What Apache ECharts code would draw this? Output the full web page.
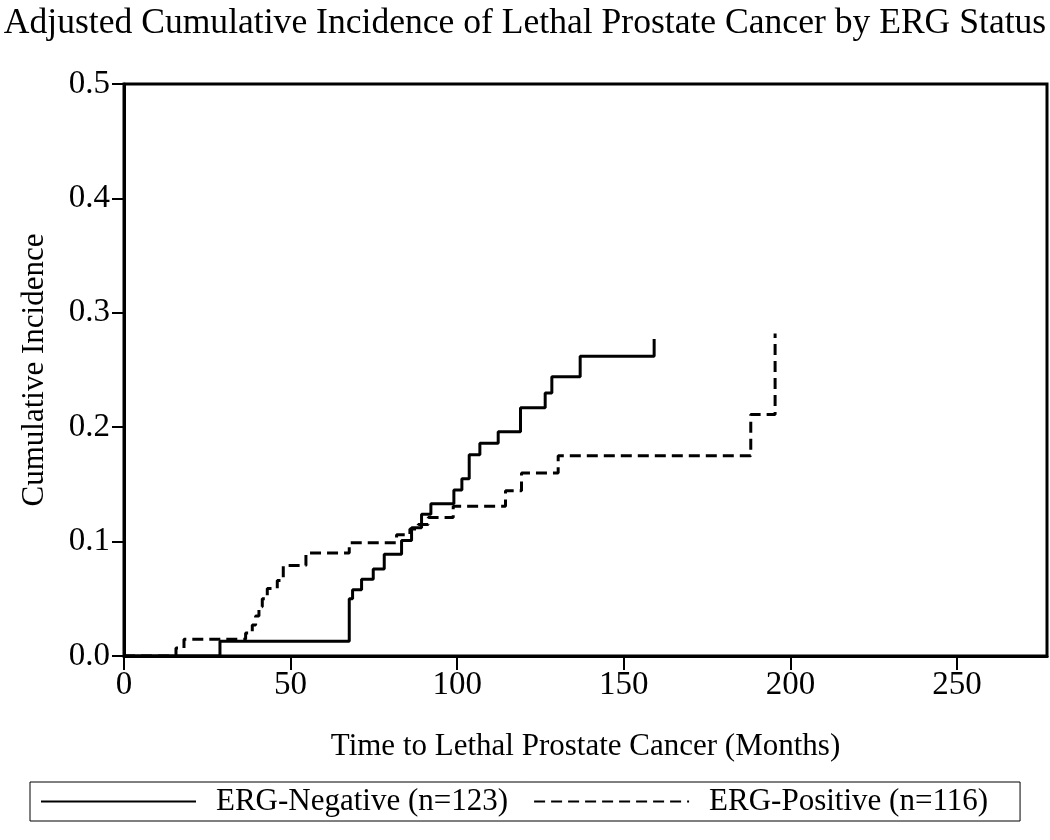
<!DOCTYPE html>
<html>
<head>
<meta charset="utf-8">
<script src="https://cdn.jsdelivr.net/npm/echarts@6/dist/echarts.min.js"></script>
<style>html,body{margin:0;padding:0;background:#fff}#c{width:1050px;height:840px}</style>
</head>
<body>
<div id="c"></div>
<script>
var titleText = 'Adjusted Cumulative Incidence of Lethal Prostate Cancer by ERG Status';
var xName = 'Time to Lethal Prostate Cancer (Months)';
var yName = 'Cumulative Incidence';
var seriesNames = ['ERG-Negative (n=123)', 'ERG-Positive (n=116)'];

// ERG-Negative step points [months, cumulative incidence]
var ergNegTime = [0, 28.8, 67.6, 68.6, 71.3, 74.8, 78.1, 83.3, 86.3, 89.3, 92.1, 99.0, 101.4, 103.6, 106.8, 112.3, 119.0, 126.4, 128.4, 136.9, 159.1];
var ergNegCI   = [0, 0.013, 0.050, 0.058, 0.067, 0.076, 0.089, 0.101, 0.112, 0.124, 0.133, 0.145, 0.155, 0.176, 0.186, 0.196, 0.217, 0.230, 0.244, 0.262, 0.277];

// ERG-Positive step points
var ergPosTime = [0, 15.6, 18.0, 36.5, 38.5, 39.5, 40.5, 41.5, 43.0, 46.0, 47.8, 54.6, 67.6, 81.8, 85.8, 88.3, 91.3, 98.8, 114.5, 119.3, 130.3, 188.1, 195.4];
var ergPosCI   = [0, 0.007, 0.0146, 0.020, 0.027, 0.035, 0.043, 0.050, 0.059, 0.066, 0.079, 0.090, 0.099, 0.106, 0.111, 0.115, 0.121, 0.131, 0.1445, 0.160, 0.175, 0.211, 0.282];

var xTicks = [0, 50, 100, 150, 200, 250];
var yTicks = [0.0, 0.1, 0.2, 0.3, 0.4, 0.5];

function pairs(t, v) { return t.map(function (x, i) { return [x, v[i]]; }); }

var FONT = '"Liberation Serif", "DejaVu Serif", serif';
var chart = echarts.init(document.getElementById('c'), null, {renderer: 'canvas'});
chart.setOption({
  animation: false,
  backgroundColor: '#fff',
  title: {
    text: titleText, left: 'center', top: 1,
    textStyle: {fontFamily: FONT, fontSize: 35.6, fontWeight: 'normal', color: '#000'}
  },
  grid: {left: 124, right: 3, top: 84, bottom: 184, show: true, borderColor: '#000', borderWidth: 3},
  xAxis: {
    type: 'value', min: 0, max: 277, interval: 50,
    name: xName, nameLocation: 'middle', nameGap: 75,
    nameTextStyle: {fontFamily: FONT, fontSize: 31, color: '#000'},
    axisLine: {show: true, lineStyle: {color: '#000', width: 3}},
    axisTick: {show: true, length: 14, customValues: xTicks, lineStyle: {color: '#000', width: 2}},
    axisLabel: {fontFamily: FONT, fontSize: 33, color: '#000', margin: 13, customValues: xTicks,
      formatter: function (v) { return String(v); }},
    splitLine: {show: false}
  },
  yAxis: {
    type: 'value', min: 0, max: 0.5, interval: 0.1,
    name: yName, nameLocation: 'middle', nameGap: 74, nameRotate: 90,
    nameTextStyle: {fontFamily: FONT, fontSize: 31, color: '#000'},
    axisLine: {show: true, lineStyle: {color: '#000', width: 3}},
    axisTick: {show: true, length: 12, customValues: yTicks, lineStyle: {color: '#000', width: 2}},
    axisLabel: {fontFamily: FONT, fontSize: 33, color: '#000', margin: 14, customValues: yTicks,
      formatter: function (v) { return Number(v).toFixed(1); }},
    splitLine: {show: false}
  },
  legend: {
    left: 30, top: 782, orient: 'horizontal',
    padding: [4, 32, 4, 10], itemGap: 25,
    itemWidth: 155, itemHeight: 14,
    borderColor: '#000', borderWidth: 1,
    itemStyle: {color: 'rgba(0,0,0,0)', borderWidth: 0, opacity: 0},
    textStyle: {fontFamily: FONT, fontSize: 31, color: '#000', padding: [0, 0, 0, 15]},
    data: seriesNames
  },
  series: [
    {
      name: seriesNames[0], type: 'line', step: 'end', symbol: 'none',
      data: pairs(ergNegTime, ergNegCI),
      lineStyle: {color: '#000', width: 3, type: 'solid'},
      itemStyle: {color: '#000'}
    },
    {
      name: seriesNames[1], type: 'line', step: 'end', symbol: 'none',
      data: pairs(ergPosTime, ergPosCI),
      lineStyle: {color: '#000', width: 3, type: [11, 6]},
      itemStyle: {color: '#000'}
    }
  ]
});
</script>
</body>
</html>
